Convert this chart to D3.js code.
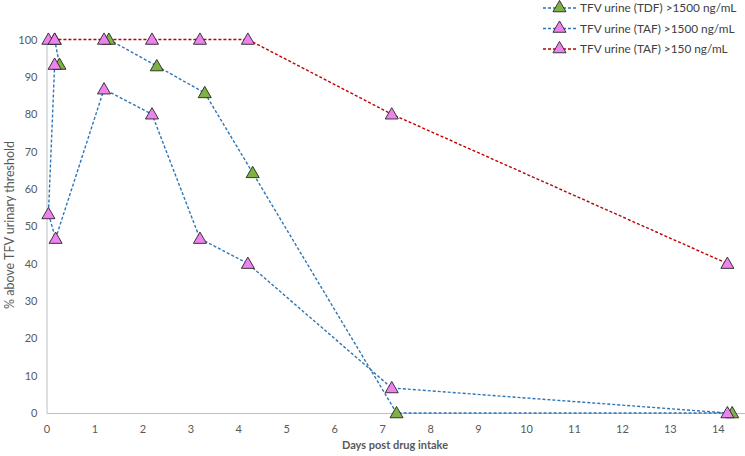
<!DOCTYPE html>
<html><head><meta charset="utf-8">
<script src="https://cdn.jsdelivr.net/npm/d3@7"></script>
<style>body{margin:0;background:#fff}svg{display:block}text{font-family:Lato,"Open Sans",sans-serif}</style>
</head><body>
<svg id="c" width="745" height="456"></svg>
<script>
const xTicks = [0,1,2,3,4,5,6,7,8,9,10,11,12,13,14];
const yTicks = [0,10,20,30,40,50,60,70,80,90,100];
const seriesNames = ["TFV urine (TDF) >1500 ng/mL","TFV urine (TAF) >1500 ng/mL","TFV urine (TAF) >150 ng/mL"];
// TDF >1500 (green markers); null marks a break in the line
const tdfX = [0.17, 0.27, null, 1.3, 2.3, 3.3, 4.3, 7.3, 14.3];
const tdfY = [100, 93.3, null, 100, 92.9, 85.7, 64.3, 0, 0];
// TAF >1500 (pink markers)
const taf1500X = [0.17, 0.04, 0.19, 1.2, 2.2, 3.2, 4.2, 7.2, 14.2];
const taf1500Y = [93.3, 53.3, 46.7, 86.7, 80, 46.7, 40, 6.7, 0];
// TAF >150 (pink markers, red line)
const taf150X = [0.04, 0.17, 1.2, 2.2, 3.2, 4.2, 7.2, 14.2];
const taf150Y = [100, 100, 100, 100, 100, 100, 80, 40];

const svg = d3.select("#c");
const x = d3.scaleLinear().domain([0,14.6]).range([46.5, 46.5+14.6*47.95]);
const y = d3.scaleLinear().domain([0,100]).range([413,39.5]);
const BLUE = "#2E75B6", RED = "#C00000", PINK = "#EE82EE", GREEN = "#7CB342";

// axes
const gx = svg.append("g").attr("transform",`translate(0,${y(0)})`)
  .call(d3.axisBottom(x).tickValues(xTicks).tickSize(0).tickPadding(12).tickFormat(d3.format("d")));
gx.select(".domain").attr("stroke","#BFBFBF").attr("stroke-width",1);
const gy = svg.append("g").attr("transform",`translate(${x(0)},0)`)
  .call(d3.axisLeft(y).tickValues(yTicks).tickSize(0).tickPadding(9).tickFormat(d3.format("d")));
gy.select(".domain").attr("stroke","#BFBFBF").attr("stroke-width",1);
svg.selectAll(".tick text").attr("fill","#595959").style("font-size","11px").style("font-family","Lato, sans-serif");

svg.append("text").attr("x",395).attr("y",449).attr("text-anchor","middle")
  .attr("fill","#595959").style("font-size","11px").style("font-weight","bold").text("Days post drug intake");
svg.append("text").attr("transform","translate(14,225) rotate(-90)").attr("text-anchor","middle")
  .attr("fill","#595959").style("font-size","12.5px").text("% above TFV urinary threshold");

function pts(xs, ys){ return xs.map((v,i)=>({x:v,y:ys[i]})); }
const line = d3.line().defined(d=>d.x!==null).x(d=>x(d.x)).y(d=>y(d.y));
const tri = d3.symbol().type(d3.symbolTriangle).size(74);

const S = [
  {d:pts(tdfX,tdfY), c:BLUE, f:GREEN},
  {d:pts(taf1500X,taf1500Y), c:BLUE, f:PINK},
  {d:pts(taf150X,taf150Y), c:RED, f:PINK}
];
S.forEach(s=>{
  svg.append("path").attr("d",line(s.d)).attr("fill","none").attr("stroke",s.c)
    .attr("stroke-width",1.4).attr("stroke-dasharray","3,2");
});
S.forEach(s=>{
  svg.selectAll(null).data(s.d.filter(d=>d.x!==null)).enter().append("path")
    .attr("d",tri).attr("transform",d=>`translate(${x(d.x)},${y(d.y)+1})`)
    .attr("fill",s.f).attr("stroke","#262626").attr("stroke-width",0.9);
});

// legend
const legY = [8,28.5,49];
const legC = [[BLUE,GREEN],[BLUE,PINK],[RED,PINK]];
seriesNames.forEach((n,i)=>{
  const g = svg.append("g").attr("transform",`translate(543,${legY[i]})`);
  g.append("line").attr("x1",0).attr("x2",33).attr("y1",0).attr("y2",0)
    .attr("stroke",legC[i][0]).attr("stroke-width",1.4).attr("stroke-dasharray","3,2");
  g.append("path").attr("d",tri).attr("transform","translate(16.5,0)")
    .attr("fill",legC[i][1]).attr("stroke","#262626").attr("stroke-width",0.9);
  g.append("text").attr("x",37).attr("y",4).attr("fill","#404040")
    .style("font-size","11.8px").text(n);
});
</script>
</body></html>
